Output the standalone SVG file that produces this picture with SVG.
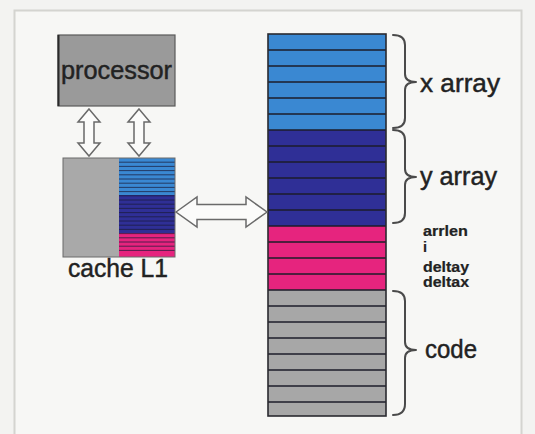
<svg xmlns="http://www.w3.org/2000/svg" width="535" height="434" viewBox="0 0 535 434">
<style>
.t{font-family:"Liberation Sans",Arial,sans-serif;fill:#222;stroke:#222;stroke-width:0.45}
.big{font-size:25px}
.sm{font-size:14.5px;font-weight:bold;stroke-width:0.2}
.br{fill:none;stroke:#4a4a4a;stroke-width:2;stroke-linecap:round;stroke-linejoin:round}
.arr{fill:#fbfbfa;stroke:#6a6a6a;stroke-width:1.5;stroke-linejoin:miter}
.lb{fill:#3a88d2}.db{fill:#2f2f96}.mg{fill:#e6247e}.gr{fill:#a7a7a7}
.sep{stroke:#1c1c2a;stroke-width:1.6}
.csep{stroke:#1c1c3a;stroke-width:0.9;opacity:0.8}
</style>
<rect x="0" y="0" width="535" height="434" fill="#f3f3f1"/>
<rect x="14.5" y="10.5" width="507" height="432" fill="#f7f7f5" stroke="#d4d4d0" stroke-width="2"/>

<g id="processor">
<rect x="58" y="35" width="117" height="71" fill="#9a9a9a" stroke="#5a5a5a" stroke-width="1.2"/>
<line x1="58.5" y1="35" x2="58.5" y2="106" stroke="#2a2a2a" stroke-width="2"/>
<text class="t big" x="61" y="79" textLength="111" lengthAdjust="spacingAndGlyphs">processor</text>
</g>

<g id="cache">
<rect x="63" y="158" width="56" height="99" fill="#a9a9a9"/>
<rect x="119" y="158" width="56" height="37" class="lb"/>
<rect x="119" y="195" width="56" height="38" class="db"/>
<rect x="119" y="233" width="56" height="24" class="mg"/>
<g class="csep">
<line x1="119" y1="162.2" x2="175" y2="162.2"/><line x1="119" y1="166.4" x2="175" y2="166.4"/>
<line x1="119" y1="170.6" x2="175" y2="170.6"/><line x1="119" y1="174.8" x2="175" y2="174.8"/>
<line x1="119" y1="179" x2="175" y2="179"/><line x1="119" y1="183.2" x2="175" y2="183.2"/>
<line x1="119" y1="187.4" x2="175" y2="187.4"/><line x1="119" y1="191.6" x2="175" y2="191.6"/>
<line x1="119" y1="195.8" x2="175" y2="195.8"/><line x1="119" y1="200" x2="175" y2="200"/>
<line x1="119" y1="204.2" x2="175" y2="204.2"/><line x1="119" y1="208.4" x2="175" y2="208.4"/>
<line x1="119" y1="212.6" x2="175" y2="212.6"/><line x1="119" y1="216.8" x2="175" y2="216.8"/>
<line x1="119" y1="221" x2="175" y2="221"/><line x1="119" y1="225.2" x2="175" y2="225.2"/>
<line x1="119" y1="229.4" x2="175" y2="229.4"/><line x1="119" y1="233.6" x2="175" y2="233.6"/>
<line x1="119" y1="237.8" x2="175" y2="237.8"/><line x1="119" y1="242" x2="175" y2="242"/>
<line x1="119" y1="246.2" x2="175" y2="246.2"/><line x1="119" y1="250.4" x2="175" y2="250.4"/>
</g>
<rect x="63" y="158" width="112" height="99" fill="none" stroke="#6a6a6a" stroke-width="1"/>
<text class="t big" x="68" y="277" textLength="100" lengthAdjust="spacingAndGlyphs">cache L1</text>
</g>

<g id="memory">
<rect x="268" y="34" width="118" height="96" class="lb"/>
<rect x="268" y="130" width="118" height="96" class="db"/>
<rect x="268" y="226" width="118" height="64" class="mg"/>
<rect x="268" y="290" width="118" height="126" class="gr"/>
<g class="sep">
<line x1="268" y1="50" x2="386" y2="50"/><line x1="268" y1="66" x2="386" y2="66"/>
<line x1="268" y1="82" x2="386" y2="82"/><line x1="268" y1="98" x2="386" y2="98"/>
<line x1="268" y1="114" x2="386" y2="114"/><line x1="268" y1="130" x2="386" y2="130"/>
<line x1="268" y1="146" x2="386" y2="146"/><line x1="268" y1="162" x2="386" y2="162"/>
<line x1="268" y1="178" x2="386" y2="178"/><line x1="268" y1="194" x2="386" y2="194"/>
<line x1="268" y1="210" x2="386" y2="210"/><line x1="268" y1="226" x2="386" y2="226"/>
<line x1="268" y1="242" x2="386" y2="242"/><line x1="268" y1="258" x2="386" y2="258"/>
<line x1="268" y1="274" x2="386" y2="274"/><line x1="268" y1="290" x2="386" y2="290"/>
<line x1="268" y1="306" x2="386" y2="306"/><line x1="268" y1="322" x2="386" y2="322"/>
<line x1="268" y1="338" x2="386" y2="338"/><line x1="268" y1="354" x2="386" y2="354"/>
<line x1="268" y1="370" x2="386" y2="370"/><line x1="268" y1="386" x2="386" y2="386"/>
<line x1="268" y1="402" x2="386" y2="402"/>
</g>
<rect x="268" y="34" width="118" height="382" fill="none" stroke="#2a2a30" stroke-width="1.6"/>
</g>

<g id="braces">
<path class="br" d="M393,35 Q405,35 405,45 L405,74 Q405,82 416,82 Q405,82 405,90 L405,118 Q405,128 393,128"/>
<path class="br" d="M393,130 Q405,130 405,140 L405,169 Q405,177 416,177 Q405,177 405,185 L405,213 Q405,223 393,223"/>
<path class="br" d="M393,291 Q405,291 405,301 L405,342 Q405,350 416,350 Q405,350 405,358 L405,404 Q405,415 393,415"/>
</g>

<g id="labels">
<text class="t big" x="420" y="92" textLength="80" lengthAdjust="spacingAndGlyphs">x array</text>
<text class="t big" x="420" y="185" textLength="77" lengthAdjust="spacingAndGlyphs">y array</text>
<text class="t big" x="425" y="358" textLength="52" lengthAdjust="spacingAndGlyphs">code</text>
<text class="t sm" x="423" y="236" textLength="45" lengthAdjust="spacingAndGlyphs">arrlen</text>
<text class="t sm" x="423" y="252">i</text>
<text class="t sm" x="423" y="272" textLength="46" lengthAdjust="spacingAndGlyphs">deltay</text>
<text class="t sm" x="423" y="287" textLength="46" lengthAdjust="spacingAndGlyphs">deltax</text>
</g>

<g id="connectors">
<path class="arr" d="M89,109 L100,122 L94,122 L94,143 L100,143 L89,156 L78,143 L84,143 L84,122 L78,122 Z"/>
<path class="arr" d="M139,109 L150,122 L144,122 L144,143 L150,143 L139,156 L128,143 L134,143 L134,122 L128,122 Z"/>
<path class="arr" d="M176,212 L197,197 L197,204.5 L246,204.5 L246,197 L267,212 L246,227 L246,219.5 L197,219.5 L197,227 Z"/>
</g>
</svg>
